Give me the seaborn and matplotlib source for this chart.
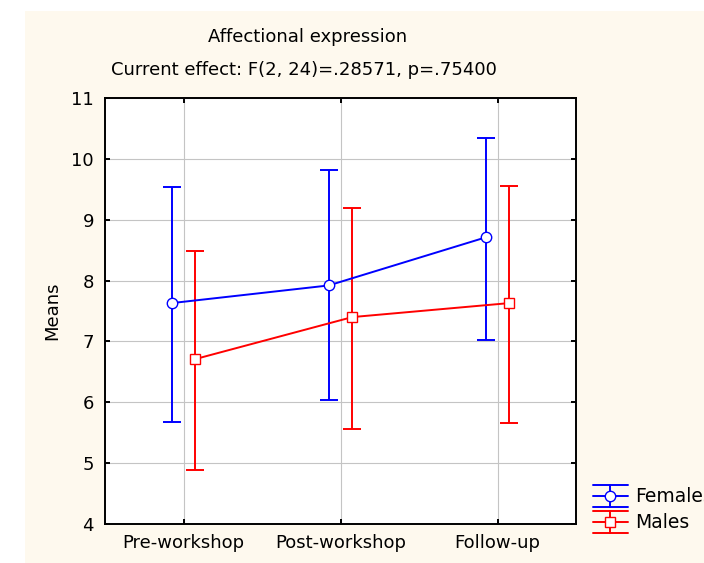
import numpy as np
import pandas as pd
import seaborn as sns
import matplotlib
matplotlib.use("Agg")
import matplotlib.pyplot as plt
from matplotlib.patches import Rectangle
from matplotlib.lines import Line2D
from matplotlib.legend_handler import HandlerBase

# ---- data ----
phases = ["Pre-workshop", "Post-workshop", "Follow-up"]
groups = ["Females", "Males"]
female_mean = [7.63, 7.92, 8.71]
female_low = [5.67, 6.03, 7.02]
female_high = [9.54, 9.81, 10.34]
male_mean = [6.71, 7.40, 7.63]
male_low = [4.88, 5.56, 5.66]
male_high = [8.49, 9.20, 9.55]
y_ticks = [4, 5, 6, 7, 8, 9, 10, 11]
title_1 = "Affectional expression"
title_2 = "Current effect: F(2, 24)=.28571, p=.75400"
y_label = "Means"

sns.set_theme(style="white")
plt.rcParams["font.family"] = ["DejaVu Sans"]
plt.rcParams["text.color"] = "black"
plt.rcParams["axes.labelcolor"] = "black"
plt.rcParams["xtick.color"] = "black"
plt.rcParams["ytick.color"] = "black"

FS = 13
colors = {"Females": "#0000FF", "Males": "#FF0000"}
markers = {"Females": "o", "Males": "s"}
offsets = {"Females": -0.075, "Males": 0.075}

fig = plt.figure(figsize=(7.04, 5.63), dpi=100, facecolor="white")
fig.patches.append(Rectangle((25 / 704, 0), 1, (563 - 11) / 563,
                             transform=fig.transFigure, facecolor="#FEF9EE",
                             edgecolor="none", zorder=-5))
ax = fig.add_axes([105 / 704, 1 - 524 / 563, 471 / 704, 426 / 563])
ax.set_facecolor("white")

rows = []
for g, m, lo, hi in [("Females", female_mean, female_low, female_high),
                     ("Males", male_mean, male_low, male_high)]:
    for i, p in enumerate(phases):
        rows.append(dict(group=g, phase=p, idx=i, mean=m[i], low=lo[i], high=hi[i]))
df = pd.DataFrame(rows)

for g in groups:
    sub = df[df.group == g]
    x = sub["idx"].to_numpy() + offsets[g]
    c = colors[g]
    ax.errorbar(x, sub["mean"], yerr=[sub["mean"] - sub["low"], sub["high"] - sub["mean"]],
                fmt="none", ecolor=c, elinewidth=1.4, capsize=6.2, capthick=1.4, zorder=2)
    sns.lineplot(x=x, y=sub["mean"].to_numpy(), ax=ax, color=c, marker=markers[g],
                 markersize=7.5, markerfacecolor="white", markeredgecolor=c,
                 markeredgewidth=1.0, linewidth=1.4, zorder=3, legend=False)

ax.set_xlim(-0.5, 2.5)
ax.set_ylim(4, 11)
ax.set_xticks(range(len(phases)))
ax.set_xticklabels(phases, fontsize=FS)
ax.set_yticks(y_ticks)
ax.set_yticklabels([str(t) for t in y_ticks], fontsize=FS)
ax.grid(True, color="#C4C4C4", linewidth=0.8)
ax.set_axisbelow(True)
for s in ax.spines.values():
    s.set_visible(True)
    s.set_color("black")
    s.set_linewidth(1.4)
ax.tick_params(direction="in", length=3.6, width=1.4, color="black",
               top=True, right=True, bottom=True, left=True,
               labeltop=False, labelright=False)
ax.tick_params(axis="y", pad=8)
ax.tick_params(axis="x", pad=7)
ax.set_xlabel("")
ax.set_ylabel(y_label, fontsize=FS)
ax.yaxis.set_label_coords(-0.093, 0.5)

fig.text(308 / 704, 1 - 37 / 563, title_1, ha="center", va="center", fontsize=FS)
fig.text(304 / 704, 1 - 70 / 563, title_2, ha="center", va="center", fontsize=FS)


class ErrHandler(HandlerBase):
    def create_artists(self, legend, orig_handle, xdescent, ydescent, width, height,
                       fontsize, trans):
        c = orig_handle.get_color()
        mk = orig_handle.get_marker()
        x0 = -xdescent
        x1 = x0 + width
        xm = (x0 + x1) / 2
        yc = -ydescent + height / 2
        d = 11 * 72 / 100
        arts = [
            Line2D([x0, x1], [yc, yc], color=c, lw=1.4),
            Line2D([x0, x1], [yc + d, yc + d], color=c, lw=1.4),
            Line2D([x0, x1], [yc - d, yc - d], color=c, lw=1.4),
            Line2D([xm, xm], [yc - d, yc + d], color=c, lw=1.4),
            Line2D([xm], [yc], marker=mk, markersize=7.5, markerfacecolor="white",
                   markeredgecolor=c, markeredgewidth=1.0, linestyle="none"),
        ]
        for a in arts:
            a.set_transform(trans)
        return arts


handles = [Line2D([], [], color=colors[g], marker=markers[g]) for g in groups]
fig.legend(handles, groups, handler_map={Line2D: ErrHandler()},
           loc="upper left", bbox_to_anchor=(593 / 704, 1 - 487 / 563),
           bbox_transform=fig.transFigure, frameon=False, fontsize=13.5,
           borderpad=0, borderaxespad=0, handlelength=1.85, handleheight=1.0,
           handletextpad=0.4, labelspacing=0.4)

fig.savefig("out.png", dpi=100, facecolor="white")
